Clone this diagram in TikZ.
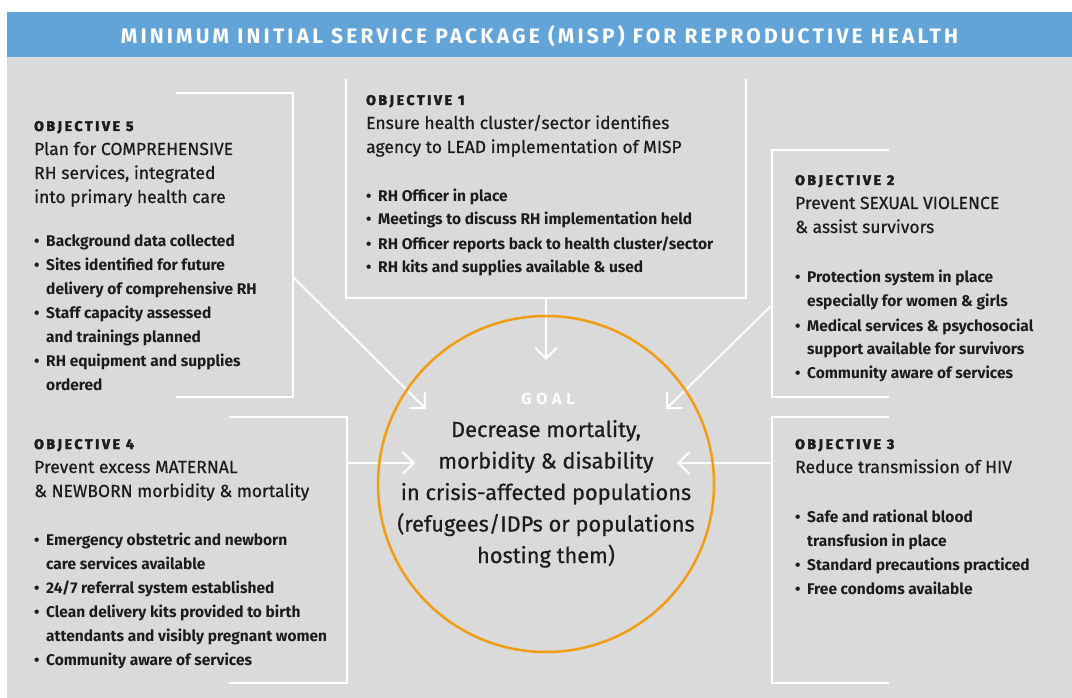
\documentclass[tikz,border=0pt]{standalone}
\usepackage{fontspec}
\setmainfont{Fira Sans}
\usetikzlibrary{arrows.meta}
\definecolor{bggray}{HTML}{DADADA}
\definecolor{banner}{HTML}{62A3D8}
\definecolor{goalorange}{HTML}{F29C12}
\definecolor{ink}{HTML}{1C1C1C}
\newcommand{\BI}[1]{\makebox[12pt][l]{\textbullet}#1}
\newcommand{\BC}[1]{\hspace*{12pt}#1}
\newcommand{\PB}[2]{\parbox[t]{#1}{\raggedright #2}}
\tikzset{
  box/.style={draw=white, line width=2.5pt},
  arr/.style={draw=white, line width=2pt, -{Straight Barb[length=11pt,width=22pt,line width=2pt]}},
  lbl/.style={anchor=base west, inner sep=0, text=ink, font=\fontsize{14}{24}\selectfont\bfseries\addfontfeatures{LetterSpace=19,FakeBold=3}},
  ttl/.style={anchor=base west, inner sep=0, text=ink, font=\fontsize{17.5}{24}\selectfont\addfontfeatures{FakeBold=0.6}},
  bul/.style={anchor=base west, inner sep=0, text=ink, font=\fontsize{15.5}{24}\selectfont\bfseries},
}
\begin{document}
\begin{tikzpicture}[x=1pt,y=-1pt]
\useasboundingbox (0,0) rectangle (1072,698);
\fill[white] (0,0) rectangle (1072,698);
\fill[banner] (7,12) rectangle (1072,57);
\fill[bggray] (7,57) rectangle (1072,698);
\node[anchor=base, inner sep=0, text=white, font=\fontsize{21}{24}\selectfont\bfseries\addfontfeatures{LetterSpace=15}] (title) at (539.5,44) {MINIMUM INITIAL SERVICE PACKAGE (MISP) FOR REPRODUCTIVE HEALTH};

% box outlines
\draw[box] (176,93) -- (293,93) -- (293,397) -- (176,397);
\draw[box] (346,79) -- (346,298) -- (746,298) -- (746,79);
\draw[box] (889,150) -- (772,150) -- (772,397) -- (889,397);
\draw[box] (229,417) -- (347,417) -- (347,683) -- (229,683);
\draw[box] (889,417) -- (772,417) -- (772,683) -- (889,683);

% connector ends
\coordinate (s5) at (293,277);
\coordinate (s1) at (546,298);
\coordinate (s2) at (772,305);
\coordinate (s4) at (347,463);
\coordinate (s3) at (772,463);
\coordinate (t5) at (426,409);
\coordinate (t1) at (546,360);
\coordinate (t2) at (666,409);
\coordinate (t4) at (415,463);
\coordinate (t3) at (677,463);
\draw[arr] (s5) -- (t5);
\draw[arr] (s1) -- (t1);
\draw[arr] (s2) -- (t2);
\draw[arr] (s4) -- (t4);
\draw[arr] (s3) -- (t3);

% goal
\node[circle, draw=goalorange, line width=2.5pt, minimum size=336pt, inner sep=0] (goal) at (546,484) {};
\node[anchor=base, inner sep=0, text=white, font=\fontsize{16}{24}\selectfont\bfseries\addfontfeatures{LetterSpace=30}] (goallbl) at (548,404) {GOAL};
\node[anchor=base, inner sep=0, text=ink, font=\fontsize{21.8}{31.5}\selectfont\addfontfeatures{FakeBold=0.6}] (goaltxt) at (546,437) {\parbox[t]{340pt}{\centering Decrease mortality,\\morbidity \& disability\\in crisis-affected populations\\(refugees/IDPs or populations\\hosting them)}};

% objective 5
\node[lbl] (o5l) at (34,131) {OBJECTIVE 5};
\node[ttl] (o5t) at (34,155) {\PB{250pt}{Plan for COMPREHENSIVE\\RH services, integrated\\into primary health care}};
\node[bul] (o5b) at (34,247) {\PB{250pt}{\BI{Background data collected}\\\BI{Sites identified for future}\\\BC{delivery of comprehensive RH}\\\BI{Staff capacity assessed}\\\BC{and trainings planned}\\\BI{RH equipment and supplies}\\\BC{ordered}}};

% objective 1
\node[lbl] (o1l) at (366,105) {OBJECTIVE 1};
\node[ttl] (o1t) at (366,129) {\PB{370pt}{Ensure health cluster/sector identifies\\agency to LEAD implementation of MISP}};
\node[bul] (o1b) at (366,201) {\PB{370pt}{\BI{RH Officer in place}\\\BI{Meetings to discuss RH implementation held}\\\BI{RH Officer reports back to health cluster/sector}\\\BI{RH kits and supplies available \& used}}};

% objective 2
\node[lbl] (o2l) at (795,185) {OBJECTIVE 2};
\node[ttl] (o2t) at (795,209) {\PB{270pt}{Prevent SEXUAL VIOLENCE\\\& assist survivors}};
\node[bul] (o2b) at (795,283) {\PB{270pt}{\BI{Protection system in place}\\\BC{especially for women \& girls}\\\BI{Medical services \& psychosocial}\\\BC{support available for survivors}\\\BI{Community aware of services}}};

% objective 3
\node[lbl] (o3l) at (795,449) {OBJECTIVE 3};
\node[ttl] (o3t) at (795,473) {\PB{270pt}{Reduce transmission of HIV}};
\node[bul] (o3b) at (795,522) {\PB{270pt}{\BI{Safe and rational blood}\\\BC{transfusion in place}\\\BI{Standard precautions practiced}\\\BI{Free condoms available}}};

% objective 4
\node[lbl] (o4l) at (34,449) {OBJECTIVE 4};
\node[ttl] (o4t) at (34,473) {\PB{300pt}{Prevent excess MATERNAL\\\& NEWBORN morbidity \& mortality}};
\node[bul] (o4b) at (34,545) {\PB{300pt}{\BI{Emergency obstetric and newborn}\\\BC{care services available}\\\BI{24/7 referral system established}\\\BI{Clean delivery kits provided to birth}\\\BC{attendants and visibly pregnant women}\\\BI{Community aware of services}}};
\end{tikzpicture}
\end{document}
